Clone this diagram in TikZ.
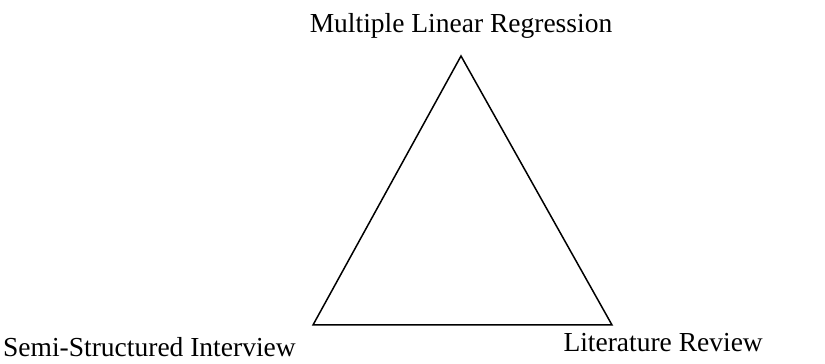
\documentclass[tikz,border=0pt]{standalone}
\usepackage{fontspec}
\setmainfont{Liberation Serif}
\begin{document}
\begin{tikzpicture}[x=1pt,y=1pt,
  lbl/.style={inner sep=0pt,font=\fontsize{27.5}{33}\selectfont},
  tri/.style={draw=black,line width=1.5pt,line join=miter}]
\useasboundingbox (0,0) rectangle (825,364);
\coordinate (A) at (461,308);
\coordinate (B) at (313,39);
\coordinate (C) at (612,39);
\draw[tri] (A) -- (B) -- (C) -- cycle;
\node[lbl,anchor=base] (top) at (461,331) {Multiple Linear Regression};
\node[lbl,anchor=base west] (left) at (3,7) {Semi-Structured Interview};
\node[lbl,anchor=base east] (right) at (763,12) {Literature Review};
\end{tikzpicture}
\end{document}
